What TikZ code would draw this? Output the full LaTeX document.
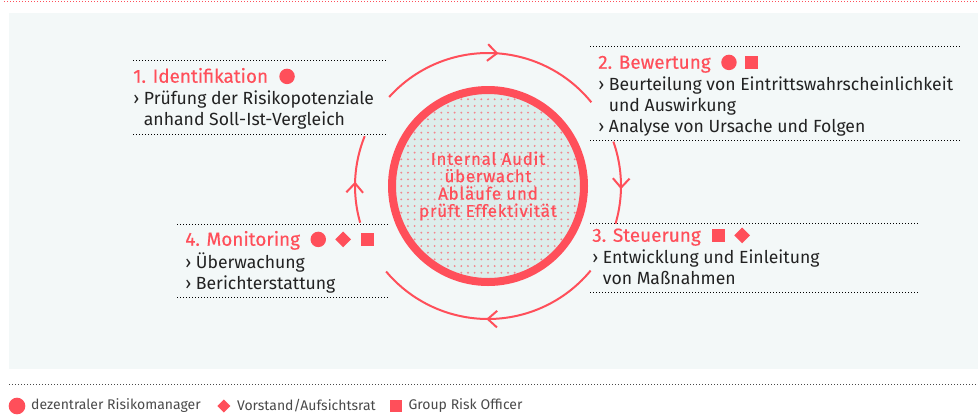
\documentclass[tikz,border=0pt]{standalone}
\usepackage{fontspec}
\setmainfont{Fira Sans}
\usetikzlibrary{positioning,arrows.meta,calc,shapes.geometric,decorations.markings}
\definecolor{rot}{HTML}{FF4F5A}
\definecolor{flaeche}{HTML}{F3F8F8}
\definecolor{kernfarbe}{HTML}{DDEDEB}
\definecolor{raster}{HTML}{F3878E}
\definecolor{schwarz}{HTML}{222222}
\definecolor{grau}{HTML}{4A4A4A}
\newcommand{\pf}{›\ }
\newcommand{\ez}{\hphantom{›\ }}

\begin{document}
\begin{tikzpicture}[x=0.75pt,y=-0.75pt,
    t/.style={text=rot,font=\fontsize{14.2}{15}\selectfont\addfontfeatures{FakeBold=0.3},inner sep=0pt,text height=9.5pt,text depth=0pt,anchor=south west},
    b/.style={text=schwarz,font=\fontsize{13.2}{15.75}\selectfont,inner sep=0pt,align=left},
    kr/.style={circle,fill=rot,minimum size=11.6pt,inner sep=0pt},
    qu/.style={fill=rot,minimum size=9.75pt,inner sep=0pt},
    ra/.style={diamond,fill=rot,minimum size=12pt,inner sep=0pt},
    lg/.style={text=grau,font=\fontsize{10.5}{12}\selectfont,inner sep=0pt},
    p/.style={line width=0.75pt,dash pattern=on 0.75pt off 1.5pt},
    bg/.style={rot,line width=1.5pt,postaction={decorate},
      decoration={markings,mark=at position #1 with {\arrow{Straight Barb[length=7pt,width=12.5pt]}}}}]
  \useasboundingbox (0,0) rectangle (978,415);
  \fill[flaeche] (9,13) rectangle (978,369);
  \draw[rot,p] (4,1) -- (978,1);
  \draw[grau,p] (9,384) -- (978,384);

  % Kreis in der Mitte
  \coordinate (m) at (488,186);
  \fill[kernfarbe] (m) circle (96);
  \begin{scope}
    \clip (m) circle (92);
    \foreach \i in {-14,...,14}
      \foreach \j in {-14,...,14}
        \fill[raster] ($(m)+(\i*6.67,\j*6.67)$) circle (1.05);
  \end{scope}
  \node[circle,draw=rot,line width=6pt,minimum size=144pt,inner sep=0pt,align=center,text=rot,
    font=\fontsize{12.8}{13}\selectfont\addfontfeatures{LetterSpace=4,FakeBold=0.4}] (ia) at (m)
    {Internal Audit\\überwacht\\Abläufe und\\prüft Effektivität};

  % Kreislauf
  \draw[bg=0.53] ($(m)+(-138:133)$) arc[start angle=-138,end angle=-39,radius=133];
  \draw[bg=0.58] ($(m)+(-19.5:133)$) arc[start angle=-19.5,end angle=16.5,radius=133];
  \draw[bg=0.51] ($(m)+(39.5:133)$) arc[start angle=39.5,end angle=140,radius=133];
  \draw[bg=0.47] ($(m)+(164:133)$) arc[start angle=164,end angle=202,radius=133];

  % 1. Identifikation
  \draw[p] (133,60) -- (388,60);
  \node[t] (t1) at (133,83) {1. Identifikation};
  \node[kr,right=8pt of t1] (t1a) {};
  \node[b,below right=5pt and 0pt of t1.south west] (b1) {\strut\pf Prüfung der Risikopotenziale\\\ez anhand Soll-Ist-Vergleich};
  \draw[p] (133,134) -- (388,134);

  % 2. Bewertung
  \draw[p] (590,46) -- (962,46);
  \node[t] (t2) at (598,69) {2. Bewertung};
  \node[kr,right=7.5pt of t2] (t2a) {};
  \node[qu,right=6pt of t2a] (t2b) {};
  \node[b,below right=5pt and 0pt of t2.south west] (b2) {\strut\pf Beurteilung von Eintrittswahrscheinlichkeit\\\ez und Auswirkung\\\pf Analyse von Ursache und Folgen};
  \draw[p] (590,140) -- (962,140);

  % 3. Steuerung
  \draw[p] (590,223) -- (918,223);
  \node[t] (t3) at (592,242) {3. Steuerung};
  \node[qu,right=8pt of t3] (t3a) {};
  \node[ra,right=6.5pt of t3a] (t3b) {};
  \node[b,below right=5pt and 0pt of t3.south west] (b3) {\strut\pf Entwicklung und Einleitung\\\ez von Maßnahmen};
  \draw[p] (590,292) -- (918,292);

  % 4. Monitoring
  \draw[p] (177,224) -- (388,224);
  \node[t] (t4) at (185,246) {4. Monitoring};
  \node[kr,right=7.5pt of t4] (t4a) {};
  \node[ra,right=6.5pt of t4a] (t4b) {};
  \node[qu,right=7pt of t4b] (t4c) {};
  \node[b,below right=5pt and 0pt of t4.south west] (b4) {\strut\pf Überwachung\\\pf Berichterstattung};
  \draw[p] (177,297) -- (388,297);

  % Legende
  \node[kr,minimum size=12.5pt] (l1) at (17,406) {};
  \node[lg,right=4pt of l1] (l1t) {dezentraler Risikomanager};
  \node[ra,minimum size=10pt,right=12pt of l1t] (l2) {};
  \node[lg,right=4.5pt of l2] (l2t) {Vorstand/Aufsichtsrat};
  \node[qu,minimum size=8.8pt,right=10.5pt of l2t] (l3) {};
  \node[lg,right=4.5pt of l3] (l3t) {Group Risk Officer};
\end{tikzpicture}
\end{document}
